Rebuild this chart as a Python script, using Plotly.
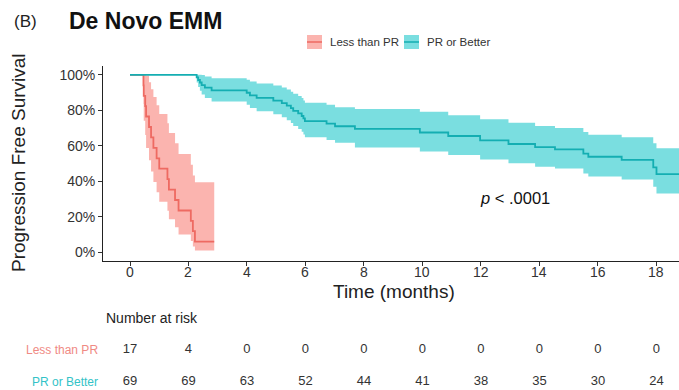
import plotly.graph_objects as go

# ---- Kaplan-Meier step data (time in months, survival as fraction) ----
less_time = [0, 0.46, 0.47, 0.52, 0.55, 0.65, 0.72, 0.80, 0.91, 1.00, 1.28, 1.33,
             1.54, 1.66, 2.08, 2.15, 2.22, 2.88]
less_surv = [1.0, .941, .882, .824, .765, .706, .647, .588, .529, .471, .412, .353,
             .294, .235, .176, .118, .059, .059]
less_lower = [1.0, .836, .741, .661, .587, .519, .455, .395, .338, .284, .233, .185,
              .141, .100, .063, .032, .009, .009]
less_upper = [1.0, 1.0, 1.0, 1.0, .996, .959, .919, .875, .829, .779, .727, .672,
              .614, .554, .493, .433, .394, .394]

pr_time = [0, 2.28, 2.33, 2.39, 2.45, 2.56, 2.79, 3.99, 4.10, 4.33, 4.90, 5.19,
           5.36, 5.50, 5.58, 5.75, 5.87, 5.93, 5.98, 6.72, 7.01, 7.69, 9.91, 10.88,
           11.97, 12.94, 13.85, 14.53, 15.50, 15.67, 16.81, 17.89, 18.00, 18.80]
pr_surv = [1.0, .986, .971, .957, .942, .928, .913, .899, .884, .870, .855, .841,
           .826, .812, .797, .783, .768, .754, .739, .725, .710, .695, .675, .655,
           .630, .610, .592, .580, .556, .538, .520, .478, .440, .440]
pr_lower = [1.0, .957, .932, .910, .889, .869, .850, .831, .813, .795, .778, .761,
            .744, .728, .711, .695, .679, .663, .648, .632, .617, .590, .568, .548,
            .522, .501, .482, .472, .444, .426, .410, .369, .331, .331]
pr_upper = [1.0, 1.0, 1.0, 1.0, .999, .991, .981, .972, .962, .951, .940, .929,
            .917, .905, .893, .881, .869, .856, .843, .831, .818, .808, .792, .772,
            .750, .730, .712, .700, .678, .662, .648, .614, .586, .586]

# ---- Number-at-risk table ----
risk_times = [0, 2, 4, 6, 8, 10, 12, 14, 16, 18]
risk_less = [17, 4, 0, 0, 0, 0, 0, 0, 0, 0]
risk_pr = [69, 69, 63, 52, 44, 41, 38, 35, 30, 24]

x_ticks = [0, 2, 4, 6, 8, 10, 12, 14, 16, 18]
y_ticks = [0, 20, 40, 60, 80, 100]
y_ticklabels = ["0%", "20%", "40%", "60%", "80%", "100%"]

group_names = ["Less than PR", "PR or Better"]
line_colors = ["#EE6A62", "#14AEB2"]
fill_colors = ["rgba(248,118,109,0.55)", "rgba(0,191,196,0.52)"]
label_colors = ["#F08A84", "#33C3C7"]

W, H = 679, 390
FONT = "Liberation Sans, Arial, sans-serif"


def px(x):
    return x / W


def py(y):
    return 1 - y / H


fig = go.Figure()

groups = [
    (less_time, less_surv, less_lower, less_upper),
    (pr_time, pr_surv, pr_lower, pr_upper),
]

# confidence bands
for (t, s, lo, up), fc in zip(groups, fill_colors):
    fig.add_trace(go.Scatter(x=t, y=[v * 100 for v in lo], mode="lines",
                             line=dict(width=0, shape="hv"), hoverinfo="skip",
                             showlegend=False))
    fig.add_trace(go.Scatter(x=t, y=[v * 100 for v in up], mode="lines",
                             line=dict(width=0, shape="hv"), fill="tonexty",
                             fillcolor=fc, hoverinfo="skip", showlegend=False))

# survival curves
for (t, s, lo, up), lc, name in zip(groups, line_colors, group_names):
    fig.add_trace(go.Scatter(x=t, y=[v * 100 for v in s], mode="lines", name=name,
                             line=dict(color=lc, width=1.8, shape="hv"),
                             showlegend=False))

# risk table numbers
for row_y, counts in zip([1, 0], [risk_less, risk_pr]):
    fig.add_trace(go.Scatter(x=risk_times, y=[row_y] * len(risk_times),
                             mode="text", text=[str(c) for c in counts],
                             textposition="middle center",
                             textfont=dict(family=FONT, size=13, color="#333333"),
                             xaxis="x2", yaxis="y2", hoverinfo="skip",
                             showlegend=False))

x_range = [-0.923, 18.77]

fig.update_layout(
    width=W, height=H,
    margin=dict(l=0, r=0, t=0, b=0),
    paper_bgcolor="white", plot_bgcolor="white",
    font=dict(family=FONT, color="#222222"),
    xaxis=dict(domain=[px(103), 1], range=x_range, tickvals=x_ticks,
               showticklabels=False,
               showgrid=False, zeroline=False, showline=True, linecolor="#222222",
               linewidth=1, ticks="outside", ticklen=4, tickcolor="#333333",
               anchor="y"),
    yaxis=dict(domain=[py(261), py(66)], range=[-5, 105], tickvals=y_ticks,
               ticktext=y_ticklabels, showgrid=False, zeroline=False,
               showline=True, linecolor="#222222", linewidth=1, ticks="outside",
               ticklen=4, tickcolor="#333333",
               tickfont=dict(size=14, color="#333333"), anchor="x"),
    xaxis2=dict(domain=[px(103), 1], range=x_range, visible=False, anchor="y2"),
    yaxis2=dict(domain=[0, py(330)], range=[-0.25, 1.625], visible=False,
                anchor="x2"),
)

annotations = [
    dict(text="(B)", x=px(12), y=py(21), xanchor="left", yanchor="middle",
         font=dict(size=17, color="#222222")),
    dict(text="<b>De Novo EMM</b>", x=px(67), y=py(21), xanchor="left",
         yanchor="middle", font=dict(size=23, color="#111111")),
    dict(text="Progression Free Survival", x=px(18), y=py(163), textangle=-90,
         xanchor="center", yanchor="middle", font=dict(size=19, color="#222222")),
    dict(text="Time (months)", x=px(394), y=py(291), xanchor="center",
         yanchor="middle", font=dict(size=19, color="#222222")),
    dict(text="<i>p</i> < .0001", x=px(515), y=py(198), xanchor="center",
         yanchor="middle", font=dict(size=16.5, color="#111111")),
    dict(text="Number at risk", x=px(104), y=py(318), xanchor="left",
         yanchor="middle", font=dict(size=14, color="#222222")),
]
for a in annotations:
    a.update(xref="paper", yref="paper", showarrow=False)

# x tick labels placed on the data scale, tucked close under the axis line
for v in x_ticks:
    annotations.append(dict(text=str(v), x=v, xref="x", y=py(272), yref="paper",
                            xanchor="center", yanchor="middle", showarrow=False,
                            font=dict(size=14, color="#333333")))

for name, y_row, col in zip(group_names, [350, 382], label_colors):
    annotations.append(dict(text=name, x=px(100), y=py(y_row), xanchor="right",
                            yanchor="middle", xref="paper", yref="paper",
                            showarrow=False, font=dict(size=12, color=col)))

# legend keys
legend_x = [307, 404]
legend_text_x = [328, 425]
shapes = []
for lx, tx, name, lc, fc in zip(legend_x, legend_text_x, group_names,
                                line_colors, fill_colors):
    shapes.append(dict(type="rect", xref="paper", yref="paper",
                       x0=px(lx), x1=px(lx + 15), y0=py(49), y1=py(35),
                       fillcolor=fc, line=dict(width=0)))
    shapes.append(dict(type="line", xref="paper", yref="paper",
                       x0=px(lx), x1=px(lx + 15), y0=py(42), y1=py(42),
                       line=dict(color=lc, width=1.5)))
    annotations.append(dict(text=name, x=px(tx), y=py(42), xanchor="left",
                            yanchor="middle", xref="paper", yref="paper",
                            showarrow=False,
                            font=dict(size=11.5, color="#333333")))

fig.update_layout(annotations=annotations, shapes=shapes)

fig.write_html("out.html")
